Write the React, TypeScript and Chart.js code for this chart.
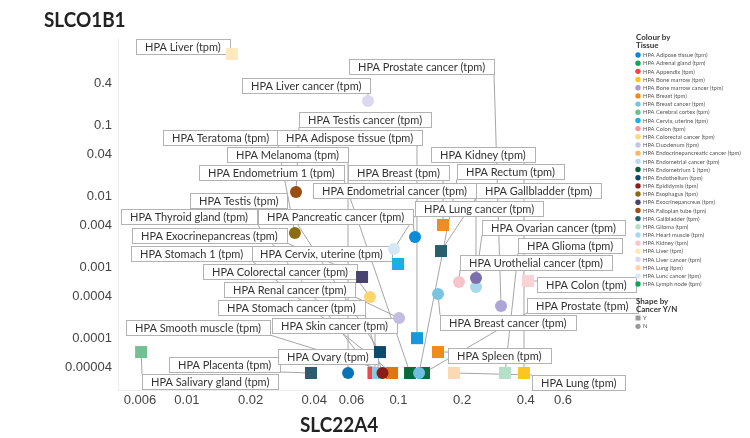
import React, { useEffect, useRef } from "react";
import { Chart, registerables } from "chart.js";

Chart.register(...registerables);

// ---------------- data ----------------
// tissue names (label text is "HPA <name> (tpm)"), listed in drawing order
const tissues = [
  "Skin cancer",
  "Smooth muscle",
  "Liver",
  "Liver cancer",
  "Testis cancer",
  "Teratoma",
  "Breast",
  "Pancreatic cancer",
  "Lung cancer",
  "Gallbladder",
  "Cervix, uterine",
  "Exocrinepancreas",
  "Urothelial cancer",
  "Endometrial cancer",
  "Ovarian cancer",
  "Colon",
  "Colorectal cancer",
  "Breast cancer",
  "Prostate cancer",
  "Renal cancer",
  "Adispose tissue",
  "Testis",
  "Spleen",
  "Salivary gland",
  "Placenta",
  "Melanoma",
  "Thyroid gland",
  "Ovary",
  "Stomach 1",
  "Stomach cancer",
  "Endometrium 1",
  "Prostate",
  "Rectum",
  "Lung",
  "Glioma",
  "Kidney",
];

// SLC22A4 expression (x)
const slc22a4Tpm = [
  0.0775, 0.093, 0.0163, 0.0718, 0.0328, 0.0324, 0.1625, 0.1198, 0.0953, 0.159,
  0.0996, 0.0673, 0.1934, 0.2328, 0.2328, 0.41, 0.0734, 0.1539, 0.3056, 0.1007,
  0.1224, 0.0818, 0.1539, 0.00607, 0.0386, 0.0578, 0.0762, 0.0801, 0.0933, 0.0841,
  0.1135, 0.1321, 0.1252, 0.1832, 0.3192, 0.3925,
];

// SLCO1B1 expression (y)
const slco1b1Tpm = [
  0.000033, 0.000033, 1.02, 0.223, 0.01167, 0.00308, 0.004, 0.00271, 0.00184, 0.00172,
  0.00113, 0.000741, 0.00063, 0.000536, 0.000717, 0.00065, 0.000387, 0.000427, 0.000289, 0.000196,
  0.000102, 0.000065, 0.000065, 0.000065, 0.000033, 0.000033, 0.000033, 0.000033, 0.000033, 0.000033,
  0.000033, 0.000033, 0.000033, 0.000033, 0.000033, 0.000033,
];

// Cancer Y/N (legend: Y = square, N = circle)
const cancerYN = [
  "N", "Y", "Y", "N", "N", "N", "Y", "N", "N", "Y",
  "Y", "Y", "N", "N", "N", "Y", "N", "N", "N", "N",
  "Y", "Y", "Y", "Y", "Y", "N", "Y", "Y", "Y", "N",
  "Y", "Y", "N", "Y", "Y", "Y",
];

// axis ticks
const xTickValues = [0.006, 0.01, 0.02, 0.04, 0.06, 0.1, 0.2, 0.4, 0.6];
const xTickLabels = ["0.006", "0.01", "0.02", "0.04", "0.06", "0.1", "0.2", "0.4", "0.6"];
const yTickValues = [0.00004, 0.0001, 0.0004, 0.001, 0.004, 0.01, 0.04, 0.1, 0.4];
const yTickLabels = ["0.00004", "0.0001", "0.0004", "0.001", "0.004", "0.01", "0.04", "0.1", "0.4"];

// legend entries
const legendTissues = [
  "Adipose tissue", "Adrenal gland", "Appendix", "Bone marrow", "Bone marrow cancer",
  "Breast", "Breast cancer", "Cerebral cortex", "Cervix, uterine", "Colon",
  "Colorectal cancer", "Duodenum", "Endocrinepancreatic cancer", "Endometrial cancer", "Endometrium 1",
  "Endothelium", "Epididymis", "Esophagus", "Exocrinepancreas", "Fallopian tube",
  "Gallbladder", "Glioma", "Heart muscle", "Kidney", "Liver",
  "Liver cancer", "Lung", "Lunc cancer", "Lymph node",
];
const shapeLegend = ["Y", "N"];

// ---------------- styles / layout ----------------
const pointColors = [
  "#86cbe5", "#e0760f", "#fde9bd", "#dcd9ef", "#9a4c12", "#8c6c13", "#f28c1c", "#0b8ad8", "#d3e7f5", "#2a5e6d",
  "#1aafe6", "#48436f", "#f6c5cc", "#a8d9ea", "#7b6fae", "#f9d2d6", "#fcd56f", "#78c5e2", "#ada5d6", "#c4bde2",
  "#1697de", "#0d4b6c", "#f08a18", "#72c093", "#2f5b70", "#0a72b6", "#e84c4a", "#86cbe5", "#e0760f", "#8a1c1a",
  "#0a6a3c", "#0d6b3e", "#6fc0e0", "#fdd9b3", "#b6dfc9", "#fbc623",
];
const legendColors = [
  "#0a8ad6", "#16a35b", "#e8483f", "#f8c623", "#a89cd6",
  "#f28b1c", "#76c4e1", "#6cbf90", "#18b0e8", "#f3979c",
  "#fdd97c", "#c8c4e8", "#fcb868", "#b5dbef", "#0b5f37",
  "#0b4a6b", "#8c1c1c", "#8b6a11", "#47426f", "#9f5010",
  "#235e6f", "#b9e0c7", "#a7d8f0", "#f8c7cd", "#fde8b8",
  "#dbd8ef", "#fdd4a7", "#d5e9f6", "#13a059",
];
// label box top-left offset from its point, px
const labelOffsets = [
  [-103, -55], [-266, -53], [-96, -15], [-126, -23], [3, -80], [-132, -103], [-95, -60], [-157, -28], [21, -48], [35, -68],
  [-147, -18], [-230, -49], [1, -27], [-163, -104], [6, -58], [9, -4], [-167, -33], [2, 21], [-152, -247], [-175, -36],
  [-140, -208], [-190, -159], [10, -4], [1, 22], [-142, -16], [-121, -226], [-252, -164], [-100, -24], [-261, -127], [-165, -73],
  [-211, -208], [103, -75], [38, -209], [78, 2], [13, -135], [-93, -226],
];

const X_MIN = 0.00472;
const X_MAX = 0.898;
const Y_MIN = 0.000019;
const Y_MAX = 1.72;

const LATO = "Lato, 'Liberation Sans', Arial, sans-serif";
const SANS = "'Liberation Sans', Arial, sans-serif";
const LABEL_FONT = `11px ${LATO}`;
const LABEL_PAD = 9;
const LABEL_H = 15;

const clamp = (v: number, a: number, b: number) => Math.max(a, Math.min(b, v));

const annotationPlugin = {
  id: "annotations",
  beforeDatasetsDraw(chart: any) {
    const ctx = chart.ctx;
    const xs = chart.scales.x;
    const ys = chart.scales.y;
    ctx.save();
    ctx.font = LABEL_FONT;
    const boxes = tissues.map((t, i) => {
      const px = xs.getPixelForValue(slc22a4Tpm[i]);
      const py = ys.getPixelForValue(slco1b1Tpm[i]);
      const text = `HPA ${t} (tpm)`;
      const w = Math.round(ctx.measureText(text).width + 2 * LABEL_PAD);
      const x0 = Math.round(px + labelOffsets[i][0]);
      const y0 = Math.round(py + labelOffsets[i][1]);
      return { px, py, text, x0, y0, w };
    });
    ctx.strokeStyle = "#9c9c9c";
    ctx.lineWidth = 0.9;
    for (const b of boxes) {
      const nx = clamp(b.px, b.x0, b.x0 + b.w);
      const ny = clamp(b.py, b.y0, b.y0 + LABEL_H);
      if (Math.hypot(nx - b.px, ny - b.py) < 3) continue;
      ctx.beginPath();
      ctx.moveTo(b.px, b.py);
      ctx.lineTo(nx, ny);
      ctx.stroke();
    }
    for (const b of boxes) {
      ctx.fillStyle = "#ffffff";
      ctx.fillRect(b.x0, b.y0, b.w, LABEL_H);
      ctx.strokeStyle = "#b2b2b2";
      ctx.lineWidth = 1;
      ctx.strokeRect(b.x0 + 0.5, b.y0 + 0.5, b.w, LABEL_H);
      ctx.fillStyle = "#333333";
      ctx.textBaseline = "middle";
      ctx.textAlign = "left";
      ctx.fillText(b.text, b.x0 + LABEL_PAD, b.y0 + LABEL_H / 2 + 1);
    }
    ctx.restore();
  },
  afterDraw(chart: any) {
    const ctx = chart.ctx;
    ctx.save();
    // axis titles (condensed look)
    ctx.fillStyle = "#222222";
    ctx.textAlign = "left";
    ctx.textBaseline = "alphabetic";
    ctx.font = `bold 21px ${LATO}`;
    const drawTitle = (s: string, x: number, y: number) => {
      ctx.save();
      ctx.translate(x, y);
      ctx.scale(0.9, 1);
      ctx.fillText(s, 0, 0);
      ctx.restore();
    };
    drawTitle("SLCO1B1", 44, 27);
    drawTitle("SLC22A4", 300, 432);

    // legend
    const lx = 636;
    ctx.font = `bold 8px ${LATO}`;
    ctx.textBaseline = "middle";
    ctx.fillStyle = "#333333";
    ctx.fillText("Colour by", lx, 37);
    ctx.fillText("Tissue", lx, 45);
    ctx.font = `5.8px ${LATO}`;
    legendTissues.forEach((t, i) => {
      const y = 55 + i * 8.18;
      ctx.fillStyle = legendColors[i];
      ctx.beginPath();
      ctx.arc(lx + 2, y, 2.7, 0, Math.PI * 2);
      ctx.fill();
      ctx.fillStyle = "#555555";
      ctx.fillText(`HPA ${t} (tpm)`, lx + 7, y + 0.3);
    });
    ctx.font = `bold 8px ${LATO}`;
    ctx.fillStyle = "#333333";
    ctx.fillText("Shape by", lx, 301);
    ctx.fillText("Cancer Y/N", lx, 309);
    ctx.font = `5.8px ${LATO}`;
    shapeLegend.forEach((s, i) => {
      const y = 318 + i * 8.3;
      ctx.fillStyle = "#9a9a9a";
      if (s === "Y") {
        ctx.fillRect(lx - 0.5, y - 2.5, 5, 5);
      } else {
        ctx.beginPath();
        ctx.arc(lx + 2, y, 2.6, 0, Math.PI * 2);
        ctx.fill();
      }
      ctx.fillStyle = "#555555";
      ctx.fillText(s, lx + 7, y + 0.3);
    });
    ctx.restore();
  },
};

export default function App() {
  const canvasRef = useRef<HTMLCanvasElement | null>(null);

  useEffect(() => {
    const canvas = canvasRef.current;
    if (!canvas) return;
    const data = tissues.map((_, i) => ({ x: slc22a4Tpm[i], y: slco1b1Tpm[i] }));
    const chart = new Chart(canvas, {
      type: "scatter",
      data: {
        datasets: [
          {
            label: "tissues",
            data,
            pointBackgroundColor: pointColors,
            pointBorderWidth: 0,
            pointStyle: (c: any) => (cancerYN[c.dataIndex] === "Y" ? "rect" : "circle"),
            pointRadius: (c: any) => (cancerYN[c.dataIndex] === "Y" ? 8.5 : 6),
            pointHoverRadius: (c: any) => (cancerYN[c.dataIndex] === "Y" ? 8.5 : 6),
            clip: false,
          } as any,
        ],
      },
      options: {
        responsive: false,
        animation: false,
        devicePixelRatio: 1,
        events: [],
        layout: { padding: { left: 0, top: 38, right: 150, bottom: 0 } },
        plugins: { legend: { display: false }, tooltip: { enabled: false } },
        scales: {
          x: {
            type: "logarithmic",
            position: "bottom",
            bounds: "data",
            min: X_MIN,
            max: X_MAX,
            afterBuildTicks: (s: any) => {
              s.ticks = xTickValues.map((v) => ({ value: v }));
            },
            afterFit: (s: any) => {
              s.height = 48;
            },
            grid: { display: false, drawTicks: false },
            border: { display: true, color: "#ececec", width: 1 },
            ticks: {
              autoSkip: false,
              maxRotation: 0,
              padding: 3,
              color: "#444444",
              font: { family: SANS, size: 13 },
              callback: (v: any) => xTickLabels[xTickValues.indexOf(Number(v))] ?? "",
            },
          },
          y: {
            type: "logarithmic",
            position: "left",
            bounds: "data",
            min: Y_MIN,
            max: Y_MAX,
            afterBuildTicks: (s: any) => {
              s.ticks = yTickValues.map((v) => ({ value: v }));
            },
            afterFit: (s: any) => {
              s.width = 118;
            },
            grid: { display: false, drawTicks: false },
            border: { display: true, color: "#ececec", width: 1 },
            ticks: {
              autoSkip: false,
              padding: 6,
              color: "#444444",
              font: { family: SANS, size: 13 },
              callback: (v: any) => yTickLabels[yTickValues.indexOf(Number(v))] ?? "",
            },
          },
        },
      } as any,
      plugins: [annotationPlugin],
    });
    return () => chart.destroy();
  }, []);

  return (
    <div style={{ position: "fixed", left: 0, top: 0, width: 750, height: 438, background: "#ffffff" }}>
      <canvas ref={canvasRef} width={750} height={438} style={{ display: "block", width: 750, height: 438 }} />
    </div>
  );
}
